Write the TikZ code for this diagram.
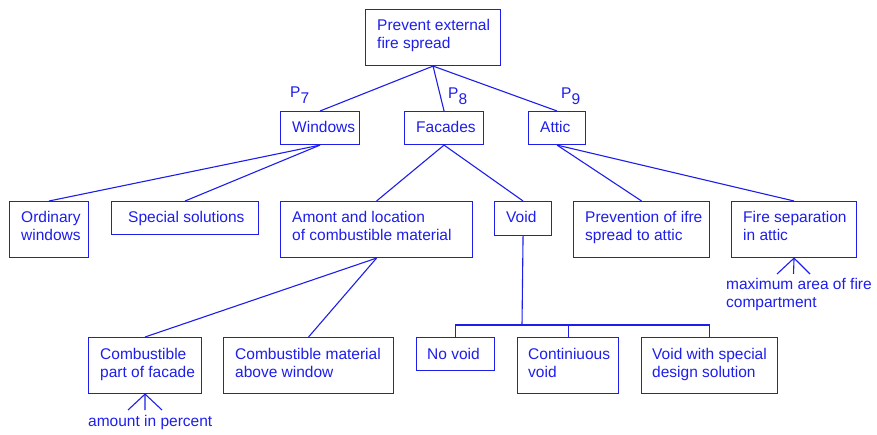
\documentclass[tikz,border=0pt]{standalone}
\usepackage{fontspec}
\setmainfont{Liberation Sans}
\definecolor{dblue}{RGB}{30,30,235}
\tikzset{
  box/.style={draw=dblue, line width=1.1pt, anchor=north west, inner sep=0pt, shape=rectangle},
  lbl/.style={anchor=base west, inner sep=0pt, align=left, text=dblue, font=\fontsize{15.5}{18}\selectfont},
  conn/.style={draw=dblue, line width=1.1pt},
}
\begin{document}
\begin{tikzpicture}[x=1pt,y=-1pt]
\useasboundingbox (0,0) rectangle (877,435);
% boxes
\node[box, minimum width=135pt, minimum height=56pt] (top) at (365,9) {};
\node[box, minimum width=79pt, minimum height=33pt] (win) at (280,111) {};
\node[box, minimum width=79pt, minimum height=33pt] (fac) at (404,111) {};
\node[box, minimum width=57pt, minimum height=33pt] (att) at (528,111) {};
\node[box, minimum width=79pt, minimum height=56pt] (ord) at (9,201) {};
\node[box, minimum width=147pt, minimum height=33pt] (spec) at (111,201) {};
\node[box, minimum width=192pt, minimum height=56pt] (amo) at (280,201) {};
\node[box, minimum width=57pt, minimum height=34pt] (void) at (494,201) {};
\node[box, minimum width=136pt, minimum height=56pt] (prev) at (573,201) {};
\node[box, minimum width=125pt, minimum height=56pt] (fsep) at (731,201) {};
\node[box, minimum width=113pt, minimum height=56pt] (cpart) at (88,337) {};
\node[box, minimum width=170pt, minimum height=56pt] (cmat) at (223,337) {};
\node[box, minimum width=78pt, minimum height=33pt] (novoid) at (416,337) {};
\node[box, minimum width=101pt, minimum height=56pt] (cont) at (517,337) {};
\node[box, minimum width=136pt, minimum height=56pt] (vspec) at (641,337) {};
% texts (base = baseline of last line)
\node[lbl] (ttop) at (377,49) {Prevent external\\fire spread};
\node[lbl] (twin) at (292,133) {Windows};
\node[lbl] (tfac) at (416,133) {Facades};
\node[lbl] (tatt) at (540,133) {Attic};
\node[lbl] (tord) at (21,241) {Ordinary\\windows};
\node[lbl] (tspec) at (128,223) {Special solutions};
\node[lbl] (tamo) at (292,241) {Amont and location\\of combustible material};
\node[lbl] (tvoid) at (506,223) {Void};
\node[lbl] (tprev) at (585,241) {Prevention of ifre\\spread to attic};
\node[lbl] (tfsep) at (743,241) {Fire separation\\in attic};
\node[lbl] (tcpart) at (100,377) {Combustible\\part of facade};
\node[lbl] (tcmat) at (235,377) {Combustible material\\above window};
\node[lbl] (tnovoid) at (427,359) {No void};
\node[lbl] (tcont) at (528,377) {Continiuous\\void};
\node[lbl] (tvspec) at (652,377) {Void with special\\design solution};
% P labels
\node[lbl] (p7) at (290,98) {P\raisebox{-6pt}{7}};
\node[lbl] (p8) at (448,99) {P\raisebox{-6pt}{8}};
\node[lbl] (p9) at (561,99) {P\raisebox{-6pt}{9}};
% connectors
\draw[conn] (top.south) -- (win.north);
\draw[conn] (top.south) -- (fac.north);
\draw[conn] (top.south) -- (att.north);
\draw[conn] (win.south) -- (ord.north);
\draw[conn] (win.south) -- (spec.north);
\draw[conn] (fac.south) -- (amo.north);
\draw[conn] (fac.south) -- (void.north);
\draw[conn] (att.south) -- (prev.north);
\draw[conn] (att.south) -- (fsep.north);
\draw[conn] (amo.south) -- (cpart.north);
\draw[conn] (amo.south) -- (cmat.north);
\coordinate (vj) at (522,325);
\draw[conn] (void.south) -- (vj);
\draw[conn] (novoid.north) |- (vj) -| (vspec.north);
\draw[conn] (cont.north) -- (cont.north |- vj);
% annotations
\coordinate (a1) at (128,410);
\coordinate (a2) at (145,410);
\coordinate (a3) at (162,410);
\draw[conn] (a1) -- (cpart.south) -- (a3);
\draw[conn] (cpart.south) -- (a2);
\node[lbl] (tamount) at (88,426) {amount in percent};
\coordinate (b1) at (777,274);
\coordinate (b2) at (793.5,274);
\coordinate (b3) at (810,274);
\draw[conn] (b1) -- (fsep.south) -- (b3);
\draw[conn] (fsep.south) -- (b2);
\node[lbl] (tmax) at (726,308) {maximum area of fire\\compartment};
\end{tikzpicture}
\end{document}
